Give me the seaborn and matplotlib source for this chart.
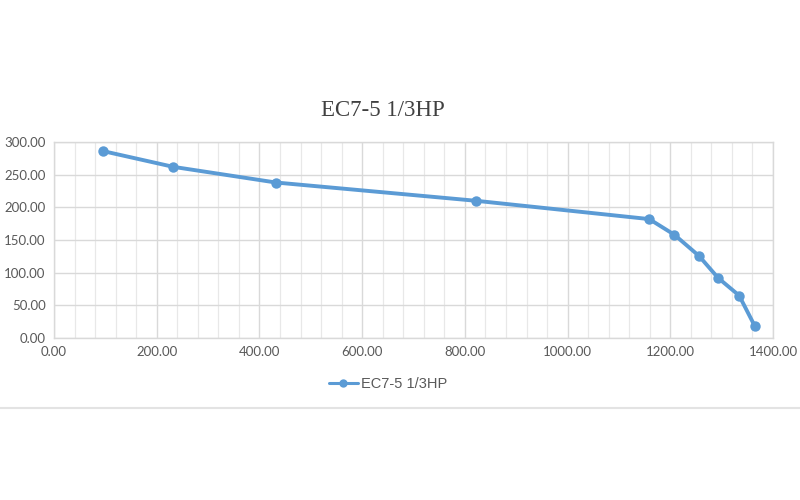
import matplotlib
matplotlib.use("Agg")
import matplotlib.pyplot as plt
from matplotlib.lines import Line2D
from matplotlib.ticker import MultipleLocator, FormatStrFormatter
import seaborn as sns
import pandas as pd

flow = [96, 232, 432, 822, 1159, 1208, 1256, 1293, 1334, 1364]
head = [286, 262, 238, 210, 182, 158, 125.5, 92, 65, 19]
series_name = "EC7-5 1/3HP"
title = "EC7-5 1/3HP"

df = pd.DataFrame({"x": flow, "y": head, "s": series_name})

sns.set_style("white")
plt.rcParams["font.family"] = ["Lato", "DejaVu Sans"]

fig = plt.figure(figsize=(8, 5), dpi=100)
ax = fig.add_axes([0.0675, 0.324, 0.8988, 0.392])

blue = "#5B9BD5"
sns.lineplot(data=df, x="x", y="y", hue="s", palette=[blue], marker="o",
             markersize=7.5, markeredgewidth=0, linewidth=2.8, ax=ax,
             sort=False, legend=False)

ax.set_xlim(0, 1400)
ax.set_ylim(0, 300)
ax.xaxis.set_major_locator(MultipleLocator(200))
ax.xaxis.set_minor_locator(MultipleLocator(40))
ax.yaxis.set_major_locator(MultipleLocator(50))
ax.xaxis.set_major_formatter(FormatStrFormatter("%.2f"))
ax.yaxis.set_major_formatter(FormatStrFormatter("%.2f"))
ax.grid(True, which="major", color="#D9D9D9", linewidth=1.0)
ax.grid(True, which="minor", axis="x", color="#E8E8E8", linewidth=0.9)
ax.set_axisbelow(True)
for sp in ax.spines.values():
    sp.set_color("#D9D9D9")
    sp.set_linewidth(1.0)
ax.tick_params(axis="both", which="both", length=0, labelsize=9.5,
               labelcolor="#595959", pad=6)
ax.set_xlabel("")
ax.set_ylabel("")

fig.text(0.479, 0.78, title, ha="center", va="center", fontsize=16.5,
         family=["Liberation Serif", "DejaVu Serif"], color="#404040")

handle = Line2D([], [], color=blue, marker="o", markersize=6,
                markeredgewidth=0, linewidth=2.2)
fig.legend([handle], [series_name], loc="center", bbox_to_anchor=(0.485, 0.232),
           frameon=False, fontsize=10.5, labelcolor="#595959",
           handlelength=2.0, handletextpad=0.2,
           prop={"family": ["Liberation Sans Narrow", "Liberation Sans", "DejaVu Sans"], "size": 10.5})

fig.add_artist(Line2D([0, 1], [1 - 408 / 500, 1 - 408 / 500], transform=fig.transFigure,
                      color="#E3E3E3", linewidth=1.5))

fig.savefig("out.png", dpi=100)
